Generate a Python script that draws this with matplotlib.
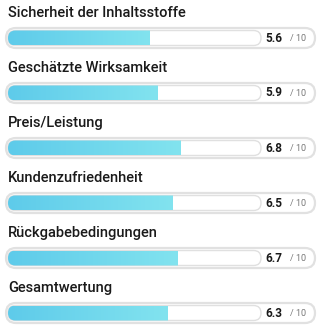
import numpy as np
import matplotlib
matplotlib.use("Agg")
import matplotlib.pyplot as plt
from matplotlib.patches import FancyBboxPatch
from matplotlib.colors import LinearSegmentedColormap

labels = ['Sicherheit der Inhaltsstoffe', 'Geschätzte Wirksamkeit', 'Preis/Leistung',
          'Kundenzufriedenheit', 'Rückgabebedingungen', 'Gesamtwertung']
scores = [5.6, 5.9, 6.8, 6.5, 6.7, 6.3]
max_score = 10

u = 25.3          # pixels per score unit (equal aspect)
pitch = 55 / u    # row spacing
fig = plt.figure(figsize=(3.21, 3.30), dpi=100)
ax = fig.add_axes([0, 0, 1, 1])
ax.set_xlim(-8 / u, (321 - 8) / u)
ax.set_ylim((330 - 38) / u, -38 / u)
ax.axis('off')

cmap = LinearSegmentedColormap.from_list('bar', ['#5ecbea', '#82e3ef'])
grad = np.linspace(0, 1, 256).reshape(1, -1)

for i, (lab, v) in enumerate(zip(labels, scores)):
    y = i * pitch
    oh = 20 / u
    outer = FancyBboxPatch((-2 / u, y - oh / 2), max_score + 56 / u, oh,
                           boxstyle=f"round,pad=0,rounding_size={oh/2}",
                           fc='white', ec='#e1e1e1', lw=1.6, zorder=1)
    ax.add_patch(outer)
    th = 15 / u
    track = FancyBboxPatch((0, y - th / 2), max_score, th,
                           boxstyle=f"round,pad=0,rounding_size={th/2}",
                           fc='white', ec='#e0e0e0', lw=1.0, zorder=2)
    ax.add_patch(track)
    im = ax.imshow(grad, cmap=cmap, aspect='auto', zorder=3,
                   extent=(0, v, y + th / 2, y - th / 2))
    im.set_clip_path(track)
    ax.text(0, y - 25 / u, lab, fontsize=10.5, family='Roboto', weight='medium',
            color='#1a1a1a', va='center', ha='left')
    ax.text((265 - 8) / u, y, f'{v:.1f}', fontsize=8.5, family='Roboto', weight='bold',
            color='#1a1a1a', va='center', ha='left')
    ax.text((290 - 8) / u, y + 0.5 / u, '/ 10', fontsize=6.5, family='Roboto',
            color='#777777', va='center', ha='left')

ax.set_xlim(-8 / u, (321 - 8) / u)
ax.set_ylim((330 - 38) / u, -38 / u)
fig.savefig('out.png', dpi=100)
